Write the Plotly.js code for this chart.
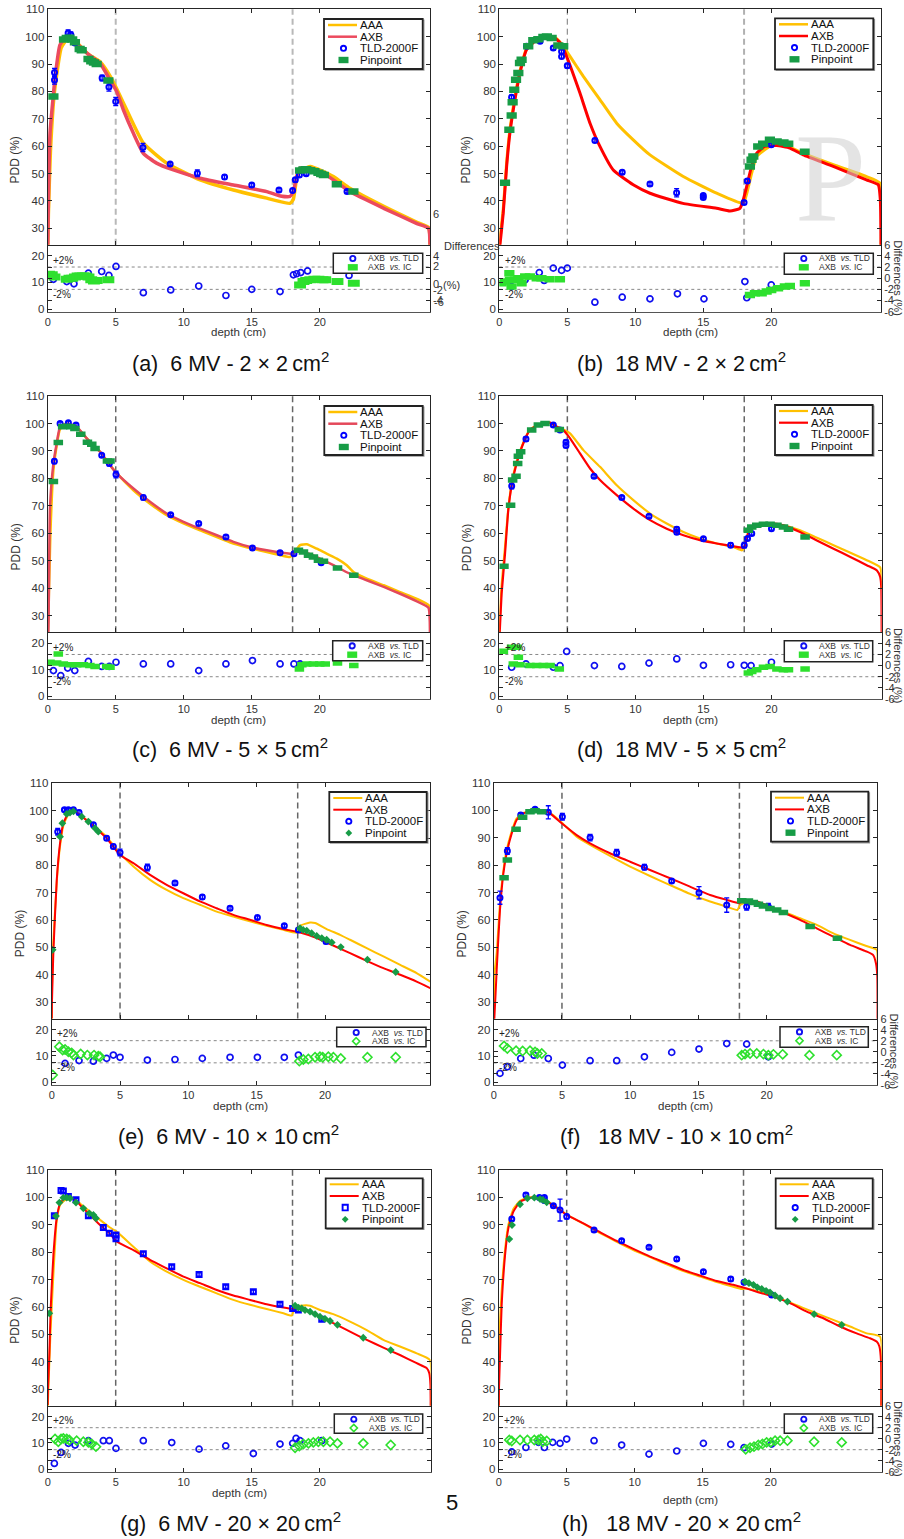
<!DOCTYPE html>
<html><head><meta charset="utf-8">
<script src="https://cdn.plot.ly/plotly-3.0.1.min.js"></script>
<style>html,body{margin:0;padding:0;background:#fff}</style>
</head><body><div id="chart" style="width:904px;height:1539px"></div>
<script>
// ---------------- DATA ----------------
// (a) 6 MV - 2x2
const aAxbD=[0,0.05,0.17,0.54,0.9,1.4,1.8,2.38,3.0,3.85,4.58,5.07,5.56,6.3,7.03,8.0,9.24,11.2,13.65,16.1,17.1,17.8,18.05,18.3,18.55,19.3,20.27,21.0,22.2,24.7,27.1,27.99,28.1];
const aAxb=[22,40,64.7,84.9,97,100,99,96.4,93.5,90.3,84.2,80,73.3,64.7,57.4,53.8,51.3,48.3,45.8,43.4,41.8,41.6,43.4,48.9,52,52,50.1,47.7,43.4,37.3,31.8,30,22];
const aAaaD=[0,0.05,0.2,0.5,1.0,1.5,2.0,2.5,3.0,3.85,4.6,5.07,5.8,7.03,8.75,11.2,13.65,16.1,17.8,18.05,18.4,19.3,21.0,22.2,24.7,27.1,28.0,28.1];
const aAaa=[22,35,58,80,96,99.5,98.5,96,93.5,90.8,85.5,81,73.3,61.1,53.8,47.7,44,41,39.1,40.5,50.1,52.6,48.9,44.6,38,32.3,30.3,22];
const aTldD=[0.5,0.5,1.5,1.7,2.0,4.0,4.5,5.0,7.0,9.0,11.0,13.0,15.0,17.0,18.0,18.2,18.5,19.0,22.0];
const aTld=[86.9,84.2,101.3,100.7,97.7,84.9,81.6,76.3,59.5,53.5,50.1,48.7,45.8,44,43.8,47.7,49.5,49.9,43.4];
const aTldE=[1.5,1.5,1.2,1,0.8,1,1.5,1.5,1.5,0.5,1.2,0.8,0.7,0.7,0.7,0.8,0.7,0.6,0.5];
const aPpD=[0.42,1.2,1.4,1.6,1.8,2.0,2.35,2.5,3.0,3.2,3.4,3.6,4.46,18.55,18.8,19.0,19.3,19.6,19.9,20.1,20.3,21.25,22.47];
const aPp=[78.1,99,99.5,99.6,99,98,95.5,95,91.8,91,90.6,90,84,51.1,51.5,51.6,51.2,50.8,50.3,49.8,49.5,46.1,43.4];
const aDTldD=[0.42,1.4,1.93,2.99,3.97,4.5,5.02,7.03,9.04,11.1,13.1,15.0,17.08,18.06,18.3,18.6,19.1,22.15];
const aDTld=[-0.2,-0.6,-1.0,0.9,1.2,0.5,2.1,-2.6,-2.1,-1.4,-3.1,-2.0,-2.4,0.6,0.8,1.0,1.3,0.5];
const aDIcD=[0.1,0.3,0.5,1.4,1.6,1.8,2.0,2.2,2.4,2.6,2.8,3.0,3.2,3.4,3.6,4.46,18.55,18.8,19.0,19.3,19.6,19.9,20.2,20.4,21.3,22.5];
const aDIc=[0.7,0.6,0.2,-0.2,0.0,0.0,0.2,0.4,0.4,0.4,0.4,0.2,-0.3,-0.5,-0.4,-0.3,-1.2,-0.6,-0.4,-0.3,-0.2,-0.2,-0.3,-0.3,-0.6,-0.9];

// (b) 18 MV - 2x2
const bAxbD=[0,0.05,0.29,0.54,0.78,1.15,1.52,2.0,2.75,3.73,4.2,4.58,4.95,5.32,5.93,6.67,7.4,8.38,9.85,11.08,13.5,15.98,16.96,17.7,17.94,18.19,18.55,18.92,19.53,20.39,21.37,22.35,24.56,27.0,27.87,28.02,28.07];
const bAxb=[22,24,35.5,52.6,64.8,77,86.7,95.2,98.9,99.9,99.1,97,92.8,87.9,79.4,68.4,59.9,51.3,45.9,42.8,39.1,37.3,36.3,37.3,40.4,45.2,52.6,57.4,59.9,60.2,59.3,56.8,52.6,47.7,45.9,40.4,22];
const bAaaD=[0,0.05,0.29,0.54,0.78,1.15,1.52,2.0,2.75,3.73,4.2,4.7,5.2,6.18,7.4,8.63,9.85,11.08,13.53,15.98,17.94,18.2,18.55,18.92,19.9,20.88,22.35,24.56,27.0,27.99,28.07];
const bAaa=[22,26,37,54,66,78,87.5,95.5,99,100,99.3,96.5,92.8,85.5,77,68.4,62.3,56.8,48.9,42.8,39.1,42.8,50,56.2,59.9,60.5,57.4,53.2,48.9,46.5,22];
const bTldD=[0.9,2.0,3.0,3.97,4.58,4.58,5.0,7.03,9.04,11.08,13.04,15.0,15.0,18.0,18.24,20.0];
const bTld=[77.9,96.5,98.3,95.9,94.6,92.8,89.4,62.1,50.5,46.2,43,42,41.2,39.4,47.3,60.5];
const bTldE=[0.7,0.7,0.6,0.7,0.7,0.7,0.8,0.7,0.6,0.7,1.5,0.6,0.6,0.7,0.7,0.6];
const bPpD=[0.42,0.74,0.91,0.98,1.1,1.23,1.4,1.52,1.64,2.13,2.5,2.87,3.24,3.5,3.85,4.34,4.7,18.43,18.55,18.68,19.04,19.4,19.9,20.4,20.9,21.25,22.47];
const bPp=[46.6,66,71.2,76,80.6,84.3,86.7,90.4,91.6,96.5,98.7,99.1,99.9,100.1,99.5,96.8,96.5,52.6,55,56.2,59.9,60.9,62.3,61.7,61.3,60.9,58];
const bDTldD=[0.9,1.9,2.94,3.3,3.97,4.58,5.0,7.03,9.04,11.08,13.1,15.05,18.06,18.2,20.0];
const bDTld=[-1.5,-0.3,1.0,-0.4,1.8,1.4,1.8,-4.3,-3.4,-3.7,-2.8,-3.7,-0.6,-3.5,-1.2];
const bDIcD=[0.17,0.42,0.74,0.78,0.9,1.15,1.4,1.64,1.9,2.25,2.75,3.1,3.7,4.46,18.43,18.8,19.3,19.66,20.0,20.5,21.0,21.37,22.47];
const bDIc=[-0.9,-0.6,0.9,-0.3,-1.5,-0.3,0,-0.9,0.3,0.3,0,0,-0.2,-0.2,-3.0,-2.7,-2.7,-2.4,-2.1,-1.8,-1.5,-1.4,-0.9];

// (c) 6 MV - 5x5
const cAxbD=[0,0.05,0.17,0.42,0.66,0.91,1.4,2.13,2.87,3.85,4.58,5.07,6.3,7.52,8.75,9.98,11.2,12.43,13.65,14.9,16.1,17.3,17.94,18.19,18.55,19.3,20.0,21.0,22.2,23.45,24.7,25.9,27.1,27.99,28.08,28.1];
const cAxb=[22,24.6,69.6,85.4,92.7,98.8,100,98.8,94.6,89.7,84.8,81.8,76.3,71.5,67.2,64.2,61.7,59.3,56.9,55,53.8,52.9,52.6,53.6,53.6,52.4,50.8,48.4,45.3,42.9,40.5,38,35.3,32.9,28.3,22];
const cAaaD=[0,0.05,0.2,0.42,0.66,0.91,1.4,2.13,2.87,3.85,4.58,5.07,6.3,7.52,8.75,9.98,11.2,13.65,16.1,17.8,18.06,18.55,19.04,19.78,20.5,21.25,21.98,22.47,23.45,24.7,25.9,27.1,28.1,28.12];
const cAaa=[22,30,60,83,92,98,99.6,98.6,94.6,89.7,84.9,81.9,75.7,70.8,66.6,63.6,61.1,56.3,53.2,51.4,52.4,55.7,56,54.4,52.6,50.8,48.4,45.9,43.5,41.1,38.6,36.2,33.4,22];
const cTldD=[0.49,0.91,1.52,2.08,3.97,4.53,5.02,7.03,9.04,11.1,13.1,15.05,17.08,18.1,20.1];
const cTld=[86.2,100,100.3,99.4,88.4,85.4,81.4,73,66.8,63.6,58.7,54.7,52.9,52.6,49.3];
const cTldE=[0.8,0.6,0.6,0.6,0.6,0.8,1.2,0.8,0.5,0.6,0.6,0.5,0.6,0.6,0.5];
const cPpD=[0.42,0.78,1.1,1.4,1.7,2.0,2.43,2.92,3.24,3.48,4.39,4.58,18.43,18.8,19.17,19.53,19.9,20.27,21.3,22.5];
const cPp=[78.9,93.1,98.8,99,98.8,98.2,96.1,93.2,92.4,90.9,86.3,86.3,53.8,53.2,52,51.4,50.2,49.8,47.4,44.7];
const cDTldD=[0.42,0.96,1.47,1.99,2.99,3.97,4.53,5.02,7.03,9.04,11.1,13.1,15.05,17.08,18.1,18.55];
const cDTld=[-0.9,-1.8,-0.45,-0.9,0.75,-0.15,-0.15,0.6,0.3,0.3,-0.9,0.3,0.9,0.3,0.3,0.3];
const cDIcD=[0.17,0.66,0.78,1.15,1.64,2.13,2.62,3.1,3.48,4.34,4.58,18.5,18.68,19.04,19.53,20.0,20.4,21.3,22.5];
const cDIc=[0.6,0.45,2.1,0.3,0.15,0.15,0.15,0,-0.15,-0.15,-0.3,-0.6,0.15,0.3,0.3,0.3,0.3,0.45,0];

// (d) 18 MV - 5x5
const dAxbD=[0,0.05,0.17,0.42,0.66,0.91,1.27,1.76,2.25,2.99,3.73,4.2,4.7,5.2,5.93,6.67,7.4,8.63,9.85,11.08,12.3,13.53,14.75,15.98,17.2,17.9,18.06,18.3,18.68,19.17,19.9,20.88,22.1,23.3,24.56,25.8,27.0,27.75,27.99,28.07,28.1];
const dAxb=[22,25.9,38,52.6,68.4,77.5,85.4,92.7,97.6,99.8,100.3,98.8,97.6,94.6,89.1,83.6,79.4,73.9,69,64.8,61.7,59.3,57.5,56.3,55.3,54.8,55.7,60.5,62.3,63.3,63.6,62.9,60.5,57.5,54.4,51.4,48.4,46.5,44.1,40.5,22];
const dAaaD=[0,0.05,0.17,0.42,0.66,0.91,1.27,1.76,2.25,2.99,3.73,4.2,4.7,5.2,6.18,7.4,8.63,9.85,11.08,12.3,13.53,14.75,15.98,17.2,17.82,18.06,18.3,18.68,19.17,19.9,20.88,22.1,23.3,24.56,25.8,27.0,28.0,28.08];
const dAaa=[22,30,41,55,69,78,86,93,97.8,99.8,100.2,99,97.8,96.4,90.3,84.2,77.5,72.1,67.2,63.6,60.5,58.1,56.3,55,53.8,55.5,60,62,63.1,63.5,62.9,61.1,58.5,55.7,52.9,50.2,47.5,40];
const dTldD=[0.91,1.96,3.97,4.46,4.9,4.9,6.96,9.0,11.0,13.04,13.04,15.0,17.0,18.0,18.24,18.55,20.0];
const dTld=[77.2,94.3,99.4,97.6,93.2,92,80.8,73,66.2,61.5,60.4,58,55.7,55.7,58.1,59.9,61.7];
const dTldE=[1,0.8,0.6,0.5,0.8,0.8,0.6,0.6,0.6,0.8,0.8,0.5,0.8,1,0.6,0.6,0.5];
const dPpD=[0.34,0.83,0.98,1.23,1.35,1.4,1.57,2.38,2.87,3.36,4.41,18.3,18.55,18.92,19.41,19.9,20.4,20.88,21.25,22.47];
const dPp=[48,70.2,79.4,80.8,85.4,88.1,89.7,97.6,99.4,100,97.8,61.1,62.3,62.9,63.3,63.3,62.9,62.3,61.5,58.7];
const dDTldD=[0.91,1.96,3.97,4.46,4.95,6.99,9.0,11.0,13.04,15.0,17.0,18.0,18.5,20.0];
const dDTld=[-0.3,0.3,-0.3,0,2.55,0,-0.15,0.45,1.2,0.05,0.15,0.05,0,0.6];
const dDIcD=[0.3,0.9,1.3,1.4,1.03,1.52,2.25,2.75,3.24,3.73,4.41,18.3,18.55,18.92,19.41,19.9,20.4,20.88,21.25,22.47];
const dDIc=[2.6,3.3,3.3,1.5,0.3,0.15,0,0,0,0,-0.6,-1.35,-1.05,-0.75,-0.3,-0.15,-0.6,-0.75,-0.75,-0.6];

// (e) 6 MV - 10x10
const eAxbD=[0,0.02,0.12,0.37,0.61,0.85,1.22,1.71,2.07,2.8,4.02,5.0,5.98,7.2,8.41,9.63,10.85,12.07,13.29,14.5,15.73,16.95,18.05,19.39,20.6,21.83,23.05,24.27,25.5,26.7,27.7];
const eAxb=[22,30,47.9,74.7,88.1,95.4,99,99.7,98.4,95.4,89.9,83.8,80.8,76.5,72.9,69.8,66.8,64.3,61.9,60.1,58.2,56.7,55.6,53.4,50.7,47.9,45.1,42.4,40,37.5,35.1];
const eAaaD=[0,0.02,0.12,0.37,0.61,0.85,1.22,1.71,2.07,2.8,4.02,5.0,5.98,7.2,8.41,9.63,10.85,12.07,13.29,14.5,15.73,16.95,17.93,18.17,18.9,19.27,20.12,21.1,21.83,23.05,24.27,25.5,26.7,27.7];
const eAaa=[22,35,52,74,87,94.5,98.6,99.5,98.6,95.6,90.4,84.4,79.6,74.7,71,68,65.6,63.1,61.3,59.5,57.9,56.4,55.4,57.9,59.1,58.9,56.7,54.6,52.8,49.7,46.7,43.6,40.6,37.5];
const eTldD=[0.44,0.93,1.22,1.59,2.0,3.05,4.02,4.51,5.0,7.0,9.02,11.02,13.05,15.05,17.02,18.05,20.07];
const eTld=[92.3,100.3,100.3,100.3,99.3,94.8,89.9,86.9,84.7,79.2,73.5,68.4,64.3,60.9,57.9,56.4,52.2];
const eTldE=[1.2,0.6,0.6,0.6,0.8,0.8,0.8,0.8,1.2,1.2,0.8,0.8,0.8,0.6,0.6,0.8,0.8];
const ePpD=[0.07,0.61,0.78,1.1,1.34,1.59,2.2,2.68,3.17,3.41,18.17,18.4,18.66,19.02,19.39,19.76,20.12,20.49,21.15,23.1,25.17];
const ePp=[49.1,90.5,95.4,98.8,99.3,99.7,97.8,96,93.6,92.3,57,56.4,56.1,55.2,54.2,53.4,52.8,51.8,50.1,45.5,41];
const eDTldD=[0.98,2.0,3.05,4.02,4.51,5.0,7.0,9.02,11.02,13.05,15.05,17.02,18.05];
const eDTld=[-2.1,-1.6,-1.7,-1.2,-0.6,-1.0,-1.5,-1.4,-1.2,-1.0,-1.0,-1.0,-0.6];
const eDIcD=[0.07,0.56,0.8,0.98,1.22,1.46,1.59,2.12,2.61,3.1,3.41,3.54,18.12,18.41,18.78,19.27,19.63,19.83,20.24,20.61,21.15,23.1,25.17];
const eDIc=[-4.2,0.9,0.3,0.4,0,-0.2,-0.6,-0.4,-0.6,-0.6,-0.8,-0.9,-1.7,-1.4,-1.3,-1.0,-0.9,-1.0,-0.9,-1.0,-1.2,-1.0,-1.0];

// (f) 18 MV - 10x10
const fAxbD=[0,0.05,0.22,0.46,0.71,0.95,1.32,1.68,2.17,2.9,3.64,4.13,4.98,6.08,7.06,8.52,9.99,11.45,12.92,14.38,15.85,17.07,18.0,18.29,19.27,20.24,21.22,22.44,23.66,24.88,26.1,27.3,27.8,28.0,28.1,28.12];
const fAxb=[22,24.2,41.8,63.6,77,84.3,91.5,96.4,98.8,100,100,98.8,95.2,90.9,87.9,84.3,81.2,78.2,75.2,72.1,69.1,67.3,66.1,67,66.7,64.8,62.7,60,56.9,53.9,50.9,48.5,47.2,44.2,39.3,22];
const fAaaD=[0,0.05,0.22,0.46,0.71,0.95,1.32,1.68,2.17,2.9,3.64,4.13,4.98,6.08,7.06,8.52,9.99,11.45,12.92,14.38,15.85,17.07,17.85,18.05,18.78,20.0,21.22,22.44,23.66,24.88,26.1,27.3,28.06,28.1];
const fAaa=[22,40,48,66,78,85.5,92.3,97,99,100,100,99,95.5,90.3,87.3,83.3,79.4,76,72.7,69.5,66.7,64.8,63.6,65.4,67,65.1,63,60.6,58.2,55.1,52.7,50.5,49.1,40];
const fTldD=[0.46,1.0,1.98,3.03,4.0,5.03,7.06,9.01,11.04,13.04,15.04,17.07,18.53,20.12];
const fTld=[68.1,85.1,98.2,100.3,99.2,97.6,90,84.5,79.2,74.2,69.9,65.4,64.8,64.8];
const fTldE=[2.4,1.2,0.8,0.6,2.4,1.2,1.2,1.2,1,0.6,2.2,2.6,1.2,1.2];
const fPpD=[0.76,1.0,1.64,2.12,2.66,3.03,3.52,18.17,18.66,19.02,19.39,19.76,20.24,20.73,21.22,23.18,25.18];
const fPp=[75.4,81.8,93,97.4,99.4,99.8,99.4,67,66.9,66.3,65.7,65.1,64.2,63.6,62.7,57.6,53.3];
const fDTldD=[0.46,1.0,1.98,2.95,4.0,5.03,7.06,9.01,11.04,13.04,15.04,17.07,18.53,20.12];
const fDTld=[-3.9,-2.7,-1.2,-0.6,-1.2,-2.4,-1.6,-1.6,-0.9,-0.1,0.5,1.5,1.4,-0.9];
const fDIcD=[0.76,1.0,1.64,2.12,2.66,3.03,3.2,3.52,18.17,18.41,18.78,19.27,19.76,20.12,20.49,21.17,23.13,25.13];
const fDIc=[1.05,0.6,0.2,0.15,0.2,0,-0.3,-0.3,-0.6,-0.4,-0.3,-0.3,-0.4,-0.6,-0.45,-0.45,-0.6,-0.6];

// (g) 6 MV - 20x20
const gAxbD=[0,0.02,0.12,0.22,0.42,0.66,0.91,1.27,1.89,2.38,3.11,3.85,4.58,5.07,6.3,7.52,8.75,9.98,11.2,12.43,13.65,14.88,16.1,17.33,18.01,18.55,19.78,21.0,22.23,23.46,24.68,25.9,27.13,27.87,28.06,28.14,28.16];
const gAxb=[24.3,30,42.5,59.5,79,92.4,97.8,99.9,99.7,97.2,93.6,89.9,86.7,83.9,80.8,77.2,74.1,71.1,68.7,66.2,64.2,62.6,61,59.8,59.3,59.3,57.1,54.1,51,48,45.2,42.5,39.5,37.7,35.8,31.6,22];
const gAaaD=[0,0.05,0.2,0.42,0.66,0.91,1.27,1.89,2.38,3.11,3.85,4.58,5.07,6.3,7.52,8.75,9.98,11.2,12.43,13.65,14.88,16.1,17.33,17.94,18.19,18.55,19.29,20.02,21.0,22.23,23.46,24.68,25.9,27.13,28.1,28.16];
const gAaa=[22,30,50,72,91.2,97.2,99,99.5,97.8,94.8,91.8,89,87.5,82,76.6,72.9,69.9,67.4,65,62.6,60.8,59.3,57.7,56.9,60.2,60.5,60.5,58.9,57.4,54.7,51.6,48,45.6,43.1,40.7,22];
const gTldD=[0.49,0.98,1.15,1.52,2.08,2.99,4.09,4.53,5.02,5.02,7.03,9.12,11.13,13.09,15.12,17.08,18.01,18.43,20.15];
const gTld=[93.3,102.5,102.3,100.3,99.1,93.3,89,86.9,86.3,84.9,79.4,74.7,71.9,67.4,65.6,61,59.5,58.9,55.5];
const gTldE=[0.6,0.6,0.6,0.6,0.6,0.6,0.6,0.6,0.6,0.6,0.6,0.6,0.6,0.6,0.6,0.6,0.6,0.6,0.6];
const gPpD=[0.12,0.61,0.86,1.15,1.4,1.64,2.08,2.62,3.06,3.36,3.55,18.19,18.43,18.68,18.92,19.29,19.66,20.02,20.39,20.76,21.3,23.2,25.22];
const gPp=[57.7,93.2,98.1,99.9,99.9,99.7,98.1,96,94.2,93.6,92.4,60.5,59.8,59.5,58.9,58.3,57.4,56.5,55.7,54.9,53.5,48.8,44.3];
const gDTldD=[0.49,0.98,1.52,2.01,2.99,4.09,4.53,5.02,7.03,9.12,11.13,13.09,15.12,17.08,18.01,18.26,18.55,20.15];
const gDTld=[-4.5,-2.5,-0.85,-1.15,-0.36,-0.36,-0.36,-1.76,-0.36,-0.7,-1.9,-1.3,-2.7,-0.97,-0.85,0.06,-0.36,-0.36];
const gDIcD=[0.54,0.78,0.98,1.15,1.4,1.59,2.13,2.62,2.99,3.24,3.55,18.19,18.5,18.8,19.17,19.53,19.9,20.27,20.76,21.3,23.2,25.22];
const gDIc=[-0.06,-0.55,-0.06,0.06,-0.06,-0.24,-0.36,-0.55,-0.67,-0.97,-1.45,-1.64,-1.33,-0.97,-0.85,-0.67,-0.55,-0.55,-0.55,-0.85,-0.85,-1.15];

// (h) 18 MV - 20x20
const hAxbD=[0,0.02,0.1,0.22,0.47,0.71,1.08,1.57,2.3,3.04,3.77,4.51,5.0,6.23,7.45,8.68,9.9,11.13,12.35,13.58,14.8,16.03,17.25,17.99,18.97,20.2,21.42,22.65,23.87,25.1,26.32,27.3,27.79,27.99,28.11,28.13];
const hAxb=[22,30,42.5,60.8,79,88.7,94.8,98.4,99.9,99.9,97.8,95.4,93.6,90.5,87.3,84.1,81.2,78.4,76,73.5,71.5,69.5,68.1,67.1,65.6,63.8,61.4,58.3,55.9,52.9,50.4,48.6,47.4,45.6,40.1,22];
const hAaaD=[0,0.02,0.1,0.22,0.47,0.71,1.08,1.57,2.3,3.04,3.77,4.51,5.0,6.23,7.45,8.68,9.9,11.13,12.35,13.58,14.8,16.03,17.25,17.87,18.2,18.97,20.93,23.38,24.6,25.83,27.06,28.04,28.13];
const hAaa=[22,40,55,66,81,90,95.8,98.8,100,99.8,98,95.6,93.7,90.4,87,83.8,80.8,78.2,75.6,73.1,71.1,69.1,67.4,66.6,66.8,65.9,62.6,57.7,55.3,52.9,50.4,49.2,22];
const hTldD=[0.96,2.0,2.99,3.36,3.36,4.02,4.51,5.0,7.01,9.04,11.05,13.09,15.05,17.06,18.04,20.07];
const hTld=[92.1,100.9,100,100,98.9,97,95.4,93,88.1,84.2,81.8,77.5,72.9,70.2,69,64.4];
const hTldE=[0.6,0.8,0.5,0.5,0.5,0.5,4.0,0.8,0.6,0.6,0.6,0.6,0.6,0.8,0.6,0.6];
const hPpD=[0.78,0.98,1.57,2.11,2.62,3.04,3.24,3.53,18.11,18.4,18.73,19.02,19.34,19.66,19.95,20.32,20.69,21.23,23.19,25.22];
const hPp=[84.8,89.9,97.5,99.7,99.9,99.4,99.1,98.2,69.3,68.7,68.1,67.2,66.6,65.9,65.3,64.2,63.2,62,57.4,53.5];
const hDTldD=[0.96,2.0,2.92,3.36,3.97,4.51,5.0,7.01,9.04,11.05,13.09,15.05,17.06,18.04,20.07];
const hDTld=[-2.4,-1.6,-0.67,-1.6,-0.67,-0.85,-0.06,-0.36,-1.15,-2.8,-2.24,-0.85,-1.03,-1.64,-0.97];
const hDIcD=[0.78,0.96,1.57,2.11,2.62,2.92,3.09,3.24,3.53,18.16,18.48,18.77,19.09,19.39,19.7,20.0,20.32,20.69,21.23,23.19,25.22];
const hDIc=[-0.24,-0.42,-0.24,-0.24,-0.24,-0.24,-0.06,-0.55,-0.42,-1.94,-1.64,-1.45,-1.15,-0.97,-0.67,-0.67,-0.36,-0.36,-0.36,-0.55,-0.67];

// Tick labels / texts
const mainTicks=[30,40,50,60,70,80,90,100,110];
const depthTicks=[0,5,10,15,20];
const diffLeftTicks=[0,10,20];
const diffRightTicks=[-6,-4,-2,0,2,4,6];
const diffRightText=['-6','-4','-2','0','2','4','6'];
const interfaces=[5,18];
const captions=['(a)\u00a0\u00a06 MV - 2 × 2\u2009cm<sup>2</sup>','(b)\u00a0\u00a018 MV - 2 × 2\u2009cm<sup>2</sup>',
 '(c)\u00a0\u00a06 MV - 5 × 5\u2009cm<sup>2</sup>','(d)\u00a0\u00a018 MV - 5 × 5\u2009cm<sup>2</sup>',
 '(e)\u00a0\u00a06 MV - 10 × 10\u2009cm<sup>2</sup>','(f)\u00a0\u00a0\u00a018 MV - 10 × 10\u2009cm<sup>2</sup>',
 '(g)\u00a0\u00a06 MV - 20 × 20\u2009cm<sup>2</sup>','(h)\u00a0\u00a0\u00a018 MV - 20 × 20\u2009cm<sup>2</sup>'];

// ---------------- LAYOUT / STYLE ----------------
const W=904,H=1539;
const FONT='"Liberation Sans", Arial, Helvetica, sans-serif';
const PX=x=>x/W, PY=y=>1-y/H;
const AAA_C='#FFC000', BLUE='#0000FF', PP_C='#179C46', IC_C='#2EE02E';

const panels=[
 {d:[aAxbD,aAxb,aAaaD,aAaa,aTldD,aTld,aTldE,aPpD,aPp,aDTldD,aDTld,aDIcD,aDIc], g:{L:47.7,R:430,T:9.3,M:244.7,B:311.7}, xmax:28.1,
  axb:'#EC4A5E', lw:3.5, pp:'rect', ppS:[7.3,6.5], ic:'rect', icS:[8.5,7], tld:'circle-open',
  dash:[['#b8b8b8',2],['#b8b8b8',2]], rlab:false, mess:true, pdd:15, dep:332, cap:[230,362],
  leg:[324,19,422.7,69], dleg:[333.3,253.3,422.7,273.3]},
 {d:[bAxbD,bAxb,bAaaD,bAaa,bTldD,bTld,bTldE,bPpD,bPp,bDTldD,bDTld,bDIcD,bDIc], g:{L:499.3,R:881,T:9.3,M:244.7,B:311.7}, xmax:28.07,
  axb:'#FF0000', lw:3, pp:'rect', ppS:[7.3,6.5], ic:'rect', icS:[7.3,6.5], tld:'circle-open',
  dash:[['#777',1],['#b0b0b0',2]], rlab:true, pdd:466, dep:332, cap:[681.7,362],
  leg:[775,18.3,873.3,69.3], dleg:[784.3,253.3,873.3,274.3]},
 {d:[cAxbD,cAxb,cAaaD,cAaa,cTldD,cTld,cTldE,cPpD,cPp,cDTldD,cDTld,cDIcD,cDIc], g:{L:47.7,R:430,T:396,M:632.2,B:699}, xmax:28.1,
  axb:'#E4485A', lw:2.5, pp:'rect', ppS:[6.8,5.5], ic:'rect', icS:[6.8,5.5], tld:'circle-open',
  dash:[['#666',1.5],['#666',1.5]], rlab:false, pdd:15, dep:719.5, cap:[230,748],
  leg:[324.3,406,422.7,455], dleg:[332.7,640.7,422.7,660.7]},
 {d:[dAxbD,dAxb,dAaaD,dAaa,dTldD,dTld,dTldE,dPpD,dPp,dDTldD,dDTld,dDIcD,dDIc], g:{L:499.3,R:881.7,T:396,M:632.2,B:699}, xmax:28.1,
  axb:'#FF0000', lw:2.2, pp:'rect', ppS:[6.8,5.5], ic:'rect', icS:[6.8,5.5], tld:'circle-open',
  dash:[['#666',1.5],['#666',1.5]], rlab:true, pdd:466.7, dep:719.5, cap:[681.7,748],
  leg:[775,405,872.7,455], dleg:[784.3,640.7,872.7,661.7]},
 {d:[eAxbD,eAxb,eAaaD,eAaa,eTldD,eTld,eTldE,ePpD,ePp,eDTldD,eDTld,eDIcD,eDIc], g:{L:51.7,R:430,T:783.3,M:1018.5,B:1085}, xmax:27.68,
  axb:'#FF0000', lw:2, pp:'diamond', ppS:[6], ic:'diamond-open', icS:[7], tld:'circle-open',
  dash:[['#666',1.5],['#666',1.5]], rlab:false, pdd:20, dep:1106, cap:[229,1135],
  leg:[329.3,792,426.7,842], dleg:[336.7,1027.3,426,1046.7]},
 {d:[fAxbD,fAxb,fAaaD,fAaa,fTldD,fTld,fTldE,fPpD,fPp,fDTldD,fDTld,fDIcD,fDIc], g:{L:493.7,R:877.3,T:782.7,M:1018.7,B:1085}, xmax:28.1,
  axb:'#FF0000', lw:2, pp:'rect', ppS:[6.8,5.5], ic:'diamond-open', icS:[7], tld:'circle-open',
  dash:[['#666',1.5],['#666',1.5]], rlab:true, pdd:461.7, dep:1106, cap:[676,1135],
  leg:[771,791.7,868.3,841.7], dleg:[780,1026.7,868.3,1047.3]},
 {d:[gAxbD,gAxb,gAaaD,gAaa,gTldD,gTld,gTldE,gPpD,gPp,gDTldD,gDTld,gDIcD,gDIc], g:{L:47.7,R:430.7,T:1170,M:1405.7,B:1471.7}, xmax:28.16,
  axb:'#FF0000', lw:2, pp:'diamond', ppS:[6], ic:'diamond-open', icS:[7], tld:'square-open',
  dash:[['#666',1.5],['#666',1.5]], rlab:false, pdd:15, dep:1492.5, cap:[230,1521.7],
  leg:[325.7,1178.3,422.7,1228.3], dleg:[334.3,1414,422.7,1433.3]},
 {d:[hAxbD,hAxb,hAaaD,hAaa,hTldD,hTld,hTldE,hPpD,hPp,hDTldD,hDTld,hDIcD,hDIc], g:{L:498.7,R:881.7,T:1170,M:1405.7,B:1471.7}, xmax:28.16,
  axb:'#FF0000', lw:2, pp:'diamond', ppS:[6], ic:'diamond-open', icS:[7], tld:'circle-open',
  dash:[['#666',1.5],['#666',1.5]], rlab:true, pdd:466.7, dep:1500, cap:[681,1521.7],
  leg:[775.7,1178.3,872.7,1228.3], dleg:[784.3,1414,872.7,1433.3]}
];

const traces=[], shapes=[], annotations=[];
const layout={width:W,height:H,autosize:false,margin:{l:0,r:0,t:0,b:0},paper_bgcolor:'#fff',plot_bgcolor:'#fff',
  showlegend:false,font:{family:FONT,size:11,color:'#333'}};
const xid=n=>n===1?'x':'x'+n, yid=n=>n===1?'y':'y'+n;
const xkey=n=>n===1?'xaxis':'xaxis'+n, ykey=n=>n===1?'yaxis':'yaxis'+n;
const axCommon={showgrid:false,zeroline:false,showline:true,linecolor:'#262626',linewidth:1,ticks:'inside',ticklen:4,
  tickcolor:'#262626',tickwidth:1,tickfont:{family:FONT,size:11.5,color:'#333'},fixedrange:true,autorange:false};

function ann(text,x,y,size,extra){return Object.assign({text:text,xref:'paper',yref:'paper',x:PX(x),y:PY(y),xanchor:'center',yanchor:'middle',
  showarrow:false,font:{family:FONT,size:size,color:'#333'}},extra||{});}
function markerFor(sym,size,color){
  if(sym==='rect') return {symbol:'line-ew',size:size[0],color:color,line:{color:color,width:size[1]}};
  if(sym==='diamond') return {symbol:'diamond',size:size[0],color:color,line:{width:0}};
  if(sym==='diamond-open') return {symbol:'diamond-open',size:size[0],color:color,line:{width:1.6}};
  return {symbol:sym,size:size[0],color:color,line:{width:2}};
}
function sampleShape(kind,cx,cy,color){
  if(kind==='circle-open') return {type:'circle',xref:'paper',yref:'paper',x0:PX(cx-2.6),x1:PX(cx+2.6),y0:PY(cy+2.6),y1:PY(cy-2.6),line:{color:color,width:1.9},fillcolor:'rgba(0,0,0,0)'};
  if(kind==='square-open') return {type:'rect',xref:'paper',yref:'paper',x0:PX(cx-2.6),x1:PX(cx+2.6),y0:PY(cy+2.8),y1:PY(cy-2.8),line:{color:color,width:1.9},fillcolor:'rgba(0,0,0,0)'};
  if(kind==='rect') return {type:'rect',xref:'paper',yref:'paper',x0:PX(cx-5),x1:PX(cx+5),y0:PY(cy+3.2),y1:PY(cy-3.2),line:{width:0},fillcolor:color};
  const r=kind==='diamond-open'?3.6:3.4;
  const p=`M${PX(cx)},${PY(cy-r)} L${PX(cx+r)},${PY(cy)} L${PX(cx)},${PY(cy+r)} L${PX(cx-r)},${PY(cy)} Z`;
  if(kind==='diamond') return {type:'path',xref:'paper',yref:'paper',path:p,line:{width:0},fillcolor:color};
  return {type:'path',xref:'paper',yref:'paper',path:p,line:{color:color,width:1.6},fillcolor:'rgba(0,0,0,0)'};
}

panels.forEach((p,i)=>{
  const nxm=2*i+1,nxd=2*i+2,nym=3*i+1,nyl=3*i+2,nyr=3*i+3;
  const g=p.g;
  const [axbD,axb,aaaD,aaa,tldD,tld,tldE,ppD,pp,dtD,dt,diD,di]=p.d;
  layout[xkey(nxm)]=Object.assign({},axCommon,{domain:[PX(g.L),PX(g.R)],anchor:yid(nym),range:[0,p.xmax],tickvals:depthTicks,showticklabels:false,mirror:'ticks'});
  layout[ykey(nym)]=Object.assign({},axCommon,{domain:[PY(g.M),PY(g.T)],anchor:xid(nxm),range:[24,110],tickvals:mainTicks,mirror:'ticks'});
  layout[xkey(nxd)]=Object.assign({},axCommon,{domain:[PX(g.L),PX(g.R)],anchor:yid(nyl),range:[0,p.xmax],tickvals:depthTicks,linecolor:'#555',
     tickfont:{family:FONT,size:11,color:'#333'}});
  layout[ykey(nyl)]=Object.assign({},axCommon,{domain:[PY(g.B),PY(g.M)],anchor:xid(nxd),range:[-1,24.2],tickvals:diffLeftTicks});
  layout[ykey(nyr)]=Object.assign({},axCommon,{overlaying:yid(nyl),side:'right',anchor:xid(nxd),range:[-6,6],tickvals:diffRightTicks,
     ticktext:diffRightText,showticklabels:p.rlab,mirror:'ticks',tickfont:{family:FONT,size:11,color:'#333'}});
  const xm=xid(nxm),ym=yid(nym),xd=xid(nxd),yl=yid(nyl),yr=yid(nyr);
  const lineShape={shape:'spline',smoothing:0.45};
  traces.push({type:'scatter',mode:'lines',x:aaaD,y:aaa,xaxis:xm,yaxis:ym,line:Object.assign({color:AAA_C,width:p.lw},lineShape),hoverinfo:'skip'});
  traces.push({type:'scatter',mode:'lines',x:axbD,y:axb,xaxis:xm,yaxis:ym,line:Object.assign({color:p.axb,width:p.lw},lineShape),hoverinfo:'skip'});
  traces.push({type:'scatter',mode:'markers',x:tldD,y:tld,xaxis:xm,yaxis:ym,marker:{symbol:p.tld,size:5,color:BLUE,line:{width:2}},
    error_y:{type:'data',array:tldE,visible:true,color:BLUE,thickness:1.3,width:2.5},hoverinfo:'skip'});
  traces.push({type:'scatter',mode:'markers',x:ppD,y:pp,xaxis:xm,yaxis:ym,marker:markerFor(p.pp,p.ppS,PP_C),hoverinfo:'skip'});
  traces.push({type:'scatter',mode:'markers',x:[],y:[],xaxis:xd,yaxis:yl,hoverinfo:'skip'});
  traces.push({type:'scatter',mode:'markers',x:dtD,y:dt,xaxis:xd,yaxis:yr,marker:{symbol:'circle-open',size:6,color:'#1010F0',line:{width:1.7}},hoverinfo:'skip'});
  traces.push({type:'scatter',mode:'markers',x:diD,y:di,xaxis:xd,yaxis:yr,marker:markerFor(p.ic,p.icS,IC_C),hoverinfo:'skip'});
  interfaces.forEach((xv,k)=>shapes.push({type:'line',layer:'below',xref:xm,yref:ym+' domain',x0:xv,x1:xv,y0:0,y1:1,
    line:{color:p.dash[k][0],width:p.dash[k][1],dash:'6px,4px'}}));
  [2,-2].forEach(v=>shapes.push({type:'line',layer:'below',xref:xd+' domain',yref:yr,x0:0,x1:1,y0:v,y1:v,line:{color:'#888',width:1,dash:'dot'}}));
  const s=(g.B-g.M)/12;
  annotations.push(ann('+2%',g.L+3.5,g.M+4*s-7,10,{xanchor:'left',font:{family:FONT,size:10,color:'#222'}}));
  annotations.push(ann('-2%',g.L+3.5,g.M+8*s+5,10,{xanchor:'left',font:{family:FONT,size:10,color:'#222'}}));
  annotations.push(ann('PDD (%)',p.pdd,(g.T+g.B)/2,12,{textangle:-90}));
  annotations.push(ann('depth (cm)',(g.L+g.R)/2,p.dep,11.5));
  annotations.push(ann(captions[i],p.cap[0],p.cap[1],21.5,{font:{family:FONT,size:21.5,color:'#111'}}));
  if(p.rlab) annotations.push(ann('Differences (%)',g.R+17,(g.M+g.B)/2,11,{textangle:90}));
  const [bx0,by0,bx1,by1]=p.leg;
  shapes.push({type:'rect',xref:'paper',yref:'paper',x0:PX(bx0+1.2),x1:PX(bx1+1.2),y0:PY(by1+1.2),y1:PY(by0+1.2),line:{color:'#999',width:1.2},fillcolor:'rgba(0,0,0,0)'});
  shapes.push({type:'rect',xref:'paper',yref:'paper',x0:PX(bx0),x1:PX(bx1),y0:PY(by1),y1:PY(by0),line:{color:'#222',width:1.8},fillcolor:'#fff'});
  const rows=[by0+6,by0+17.7,by0+29.3,by0+41];
  [[AAA_C,'AAA'],[p.axb,'AXB']].forEach((e,k)=>{
    shapes.push({type:'line',xref:'paper',yref:'paper',x0:PX(bx0+4),x1:PX(bx0+33),y0:PY(rows[k]),y1:PY(rows[k]),line:{color:e[0],width:Math.min(p.lw,2.5)}});
  });
  shapes.push(sampleShape(p.tld,bx0+19.5,rows[2],BLUE));
  shapes.push(sampleShape(p.pp,bx0+19.5,rows[3],PP_C));
  ['AAA','AXB','TLD-2000F','Pinpoint'].forEach((t,k)=>annotations.push(ann(t,bx0+34,rows[k],11.5,{xanchor:'left',font:{family:FONT,size:11.5,color:'#111'}})));
  const [cx0,cy0,cx1,cy1]=p.dleg;
  shapes.push({type:'rect',xref:'paper',yref:'paper',x0:PX(cx0),x1:PX(cx1),y0:PY(cy1),y1:PY(cy0),line:{color:'#222',width:1.5},fillcolor:'#fff'});
  const drows=[cy0+5.2,cy0+14];
  shapes.push(sampleShape('circle-open',cx0+19.5,drows[0],'#1010F0'));
  shapes.push(sampleShape(p.ic,cx0+19.5,drows[1],IC_C));
  annotations.push(ann('AXB\u00a0\u00a0<i>vs.</i> TLD',cx0+33,drows[0],8.5,{xanchor:'left',font:{family:FONT,size:8.5,color:'#333'}}));
  annotations.push(ann('AXB\u00a0\u00a0<i>vs.</i> IC',cx0+33,drows[1],8.5,{xanchor:'left',font:{family:FONT,size:8.5,color:'#333'}}));
  if(p.mess){
    const m=[['6',436,214],['4',436,256],['2',436,266.5],['0',436,283.5],['-2',438,290.5],['-4',438,300],['-6',438.5,302.5]];
    m.forEach(e=>annotations.push(ann(e[0],e[1],e[2],11)));
    annotations.push(ann('Differences',442,245.7,11,{xanchor:'left'}));
    annotations.push(ann('(%)',441,285,11,{xanchor:'left'}));
  }
});
annotations.push(ann('5',452,1502,22,{font:{family:FONT,size:22,color:'#111'}}));
annotations.push(ann('P',830,178,128,{font:{family:'"Liberation Serif", "DejaVu Serif", serif',size:128,color:'rgba(205,205,205,0.55)'}}));

layout.shapes=shapes; layout.annotations=annotations;
Plotly.newPlot('chart',traces,layout,{staticPlot:true,displayModeBar:false});
</script></body></html>
